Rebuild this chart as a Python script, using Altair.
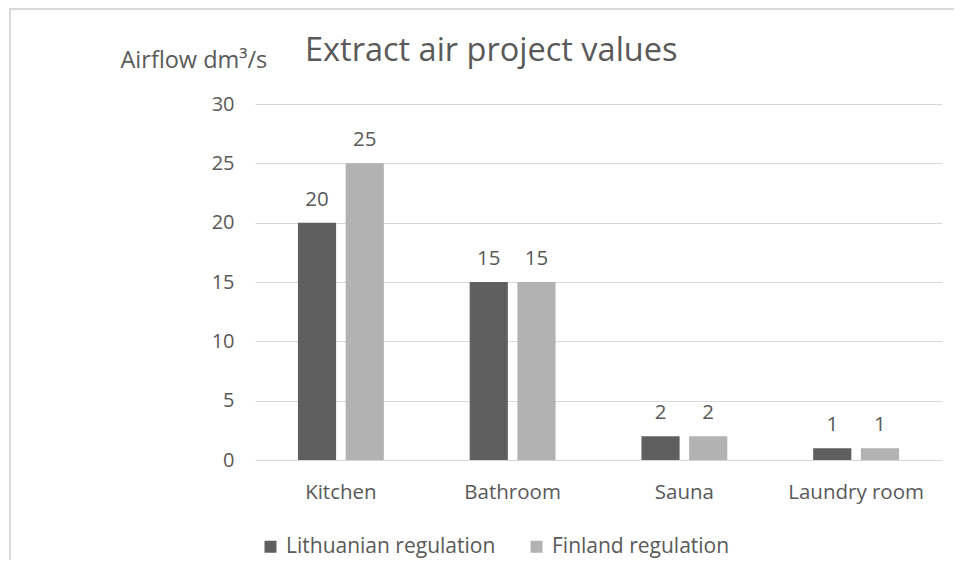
import altair as alt
import pandas as pd

categories = ["Kitchen", "Bathroom", "Sauna", "Laundry room"]
series = ["Lithuanian regulation", "Finland regulation"]
lithuanian = [20, 15, 2, 1]
finland = [25, 15, 2, 1]
y_ticks = [0, 5, 10, 15, 20, 25, 30]
colors = ["#5f5f5f", "#b2b2b2"]

rows = []
for c, l, f in zip(categories, lithuanian, finland):
    rows.append({"room": c, "regulation": series[0], "value": l})
    rows.append({"room": c, "regulation": series[1], "value": f})
df = pd.DataFrame(rows)

FONT = "Open Sans"
TXT = "#595959"

x = alt.X(
    "room:N", sort=categories, title=None,
    scale=alt.Scale(paddingInner=0.5, paddingOuter=0.25),
    axis=alt.Axis(labelAngle=0, domain=False, ticks=False, labelPadding=22,
                  labelFontSize=20.5, labelColor=TXT, labelFont=FONT, grid=False),
)
xoff = alt.XOffset("regulation:N", sort=series,
                   scale=alt.Scale(paddingInner=0.2, paddingOuter=0))
y = alt.Y(
    "value:Q", scale=alt.Scale(domain=[0, 30]),
    axis=alt.Axis(values=y_ticks, domain=False, ticks=False, labelPadding=21,
                  labelFontSize=20, labelColor=TXT, labelFont=FONT,
                  gridColor="#d9d9d9", gridWidth=1,
                  title="Airflow dm³/s", titleAngle=0, titleAlign="left",
                  titleBaseline="alphabetic", titleX=-135, titleY=-37,
                  titleFont=FONT, titleFontSize=23.5, titleFontWeight="normal",
                  titleColor=TXT),
)
color = alt.Color(
    "regulation:N", sort=series,
    scale=alt.Scale(domain=series, range=colors),
    legend=alt.Legend(title=None, orient="none", direction="horizontal",
                      legendX=5, legendY=432, symbolType="square",
                      symbolSize=144, symbolStrokeWidth=0, labelFontSize=21,
                      labelFont=FONT, labelColor=TXT, columnPadding=30,
                      labelOffset=5, labelLimit=0),
)

base = alt.Chart(df)
bars = base.mark_bar().encode(x=x, xOffset=xoff, y=y, color=color)
labels = base.mark_text(dy=-17, baseline="alphabetic", fontSize=20.5, font=FONT,
                        color=TXT).encode(x=x, xOffset=xoff, y=y,
                                          text=alt.Text("value:Q"))

frame = pd.DataFrame({"k": [0]})
top_border = alt.Chart(frame).mark_rule(color="#d9d9d9", strokeWidth=2).encode(
    x=alt.value(-246), x2=alt.value(720), y=alt.value(-95))
left_border = alt.Chart(frame).mark_rule(color="#d9d9d9", strokeWidth=2).encode(
    x=alt.value(-245), y=alt.value(-95), y2=alt.value(500))

chart = alt.layer(top_border, left_border, bars, labels).properties(
    width=687, height=356,
    autosize=alt.AutoSizeParams(type="none"),
    padding={"left": 247, "top": 96, "right": 12, "bottom": 100},
    title=alt.TitleParams("Extract air project values", anchor="start",
                          frame="group", dx=50, dy=85, offset=0,
                          baseline="alphabetic", fontSize=32.5, font=FONT,
                          color=TXT, fontWeight="normal"),
).configure_view(stroke=None)

chart.save("out.html", embed_options={"renderer": "svg", "actions": False})
